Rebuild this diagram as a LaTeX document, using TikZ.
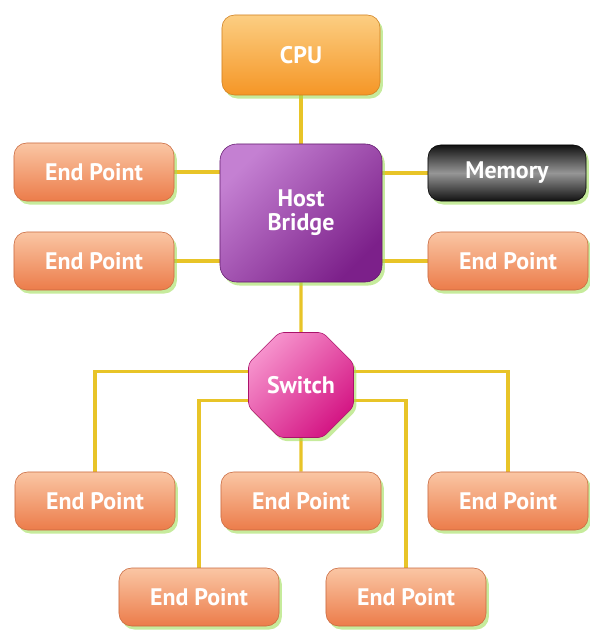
\documentclass[tikz,border=0pt]{standalone}
\usepackage{fontspec}
\setsansfont{PT Sans}
\usepackage{xcolor}
\usepackage{tikz}
\usetikzlibrary{positioning,shapes.geometric,shadows,backgrounds}
\definecolor{coral}{RGB}{236,124,74}
\definecolor{palecoral}{RGB}{250,198,164}
\definecolor{tangerine}{RGB}{245,150,38}
\definecolor{paletang}{RGB}{252,206,130}
\definecolor{plum}{RGB}{124,32,138}
\definecolor{paleplum}{RGB}{196,128,210}
\definecolor{coal}{RGB}{18,18,18}
\definecolor{ash}{RGB}{150,150,150}
\definecolor{fuchsia}{RGB}{212,22,132}
\definecolor{palefuchsia}{RGB}{246,146,204}
\definecolor{wire}{RGB}{232,196,40}
\definecolor{glow}{RGB}{160,222,90}
\tikzset{
  unit/.style  = {rounded corners=9pt, text=white, align=center,
                  font=\sffamily\bfseries\fontsize{17}{17}\selectfont,
                  drop shadow={shadow xshift=2pt, shadow yshift=-2.5pt,
                               fill=glow, opacity=.6}},
  endpt/.style = {unit, top color=palecoral, bottom color=coral,
                  draw=coral!85!black, minimum width=4cm, minimum height=1.45cm},
  link/.style  = {draw=wire, line width=2.2pt},
}

\begin{document}
\begin{tikzpicture}[
  x=0.025cm, y=-0.025cm,
  cpu/.style={unit, top color=paletang, bottom color=tangerine,
              draw=tangerine!85!black, minimum width=3.95cm, minimum height=2cm},
  bridge/.style={unit, rounded corners=12pt, left color=paleplum, right color=plum,
                 shading angle=45, draw=plum!80!black,
                 minimum width=4.05cm, minimum height=3.45cm},
  mem/.style={unit, top color=coal, bottom color=coal, middle color=ash,
              draw=black, minimum width=3.95cm, minimum height=1.4cm},
  hub/.style={unit, regular polygon, regular polygon sides=8, rounded corners=3pt,
              left color=palefuchsia, right color=fuchsia, shading angle=45,
              draw=fuchsia!80!black, minimum size=2.84cm, inner sep=0pt},
]
\useasboundingbox (0,0) rectangle (590,631);

\node[cpu]    (cpu) at (301,55)  {CPU};
\node[bridge] (hb)  at (301,213) {Host\\Bridge};
\node[endpt]  (ep1) at (94,172)  {End Point};
\node[endpt]  (ep2) at (94,261)  {End Point};
\node[mem]    (mem) at (507,173) {Memory};
\node[endpt]  (ep3) at (508,261) {End Point};
\node[hub]    (sw)  at (301,385) {Switch};
\node[endpt]  (ep4) at (95,501)  {End Point};
\node[endpt]  (ep5) at (301,501) {End Point};
\node[endpt]  (ep6) at (508,501) {End Point};
\node[endpt]  (ep7) at (199,597) {End Point};
\node[endpt]  (ep8) at (406,597) {End Point};

% wiring
\begin{scope}[on background layer]
  \draw[link] (cpu.south) -- (hb.north);
  \draw[link] (hb.south) -- (sw.north);
  \draw[link] (ep1.east) -- (ep1.east -| hb.west);
  \draw[link] (ep2.east) -- (ep2.east -| hb.west);
  \draw[link] (mem.west) -- (mem.west -| hb.east);
  \draw[link] (ep3.west) -- (ep3.west -| hb.east);
  \draw[link] ([yshift=0.33cm]sw.west) -| (ep4.north);
  \draw[link] ([yshift=-0.38cm]sw.west) -| (ep7.north);
  \draw[link] ([yshift=0.33cm]sw.east) -| (ep6.north);
  \draw[link] ([yshift=-0.38cm]sw.east) -| (ep8.north);
  \draw[link] (sw.south) -- (ep5.north);
\end{scope}
\end{tikzpicture}
\end{document}
